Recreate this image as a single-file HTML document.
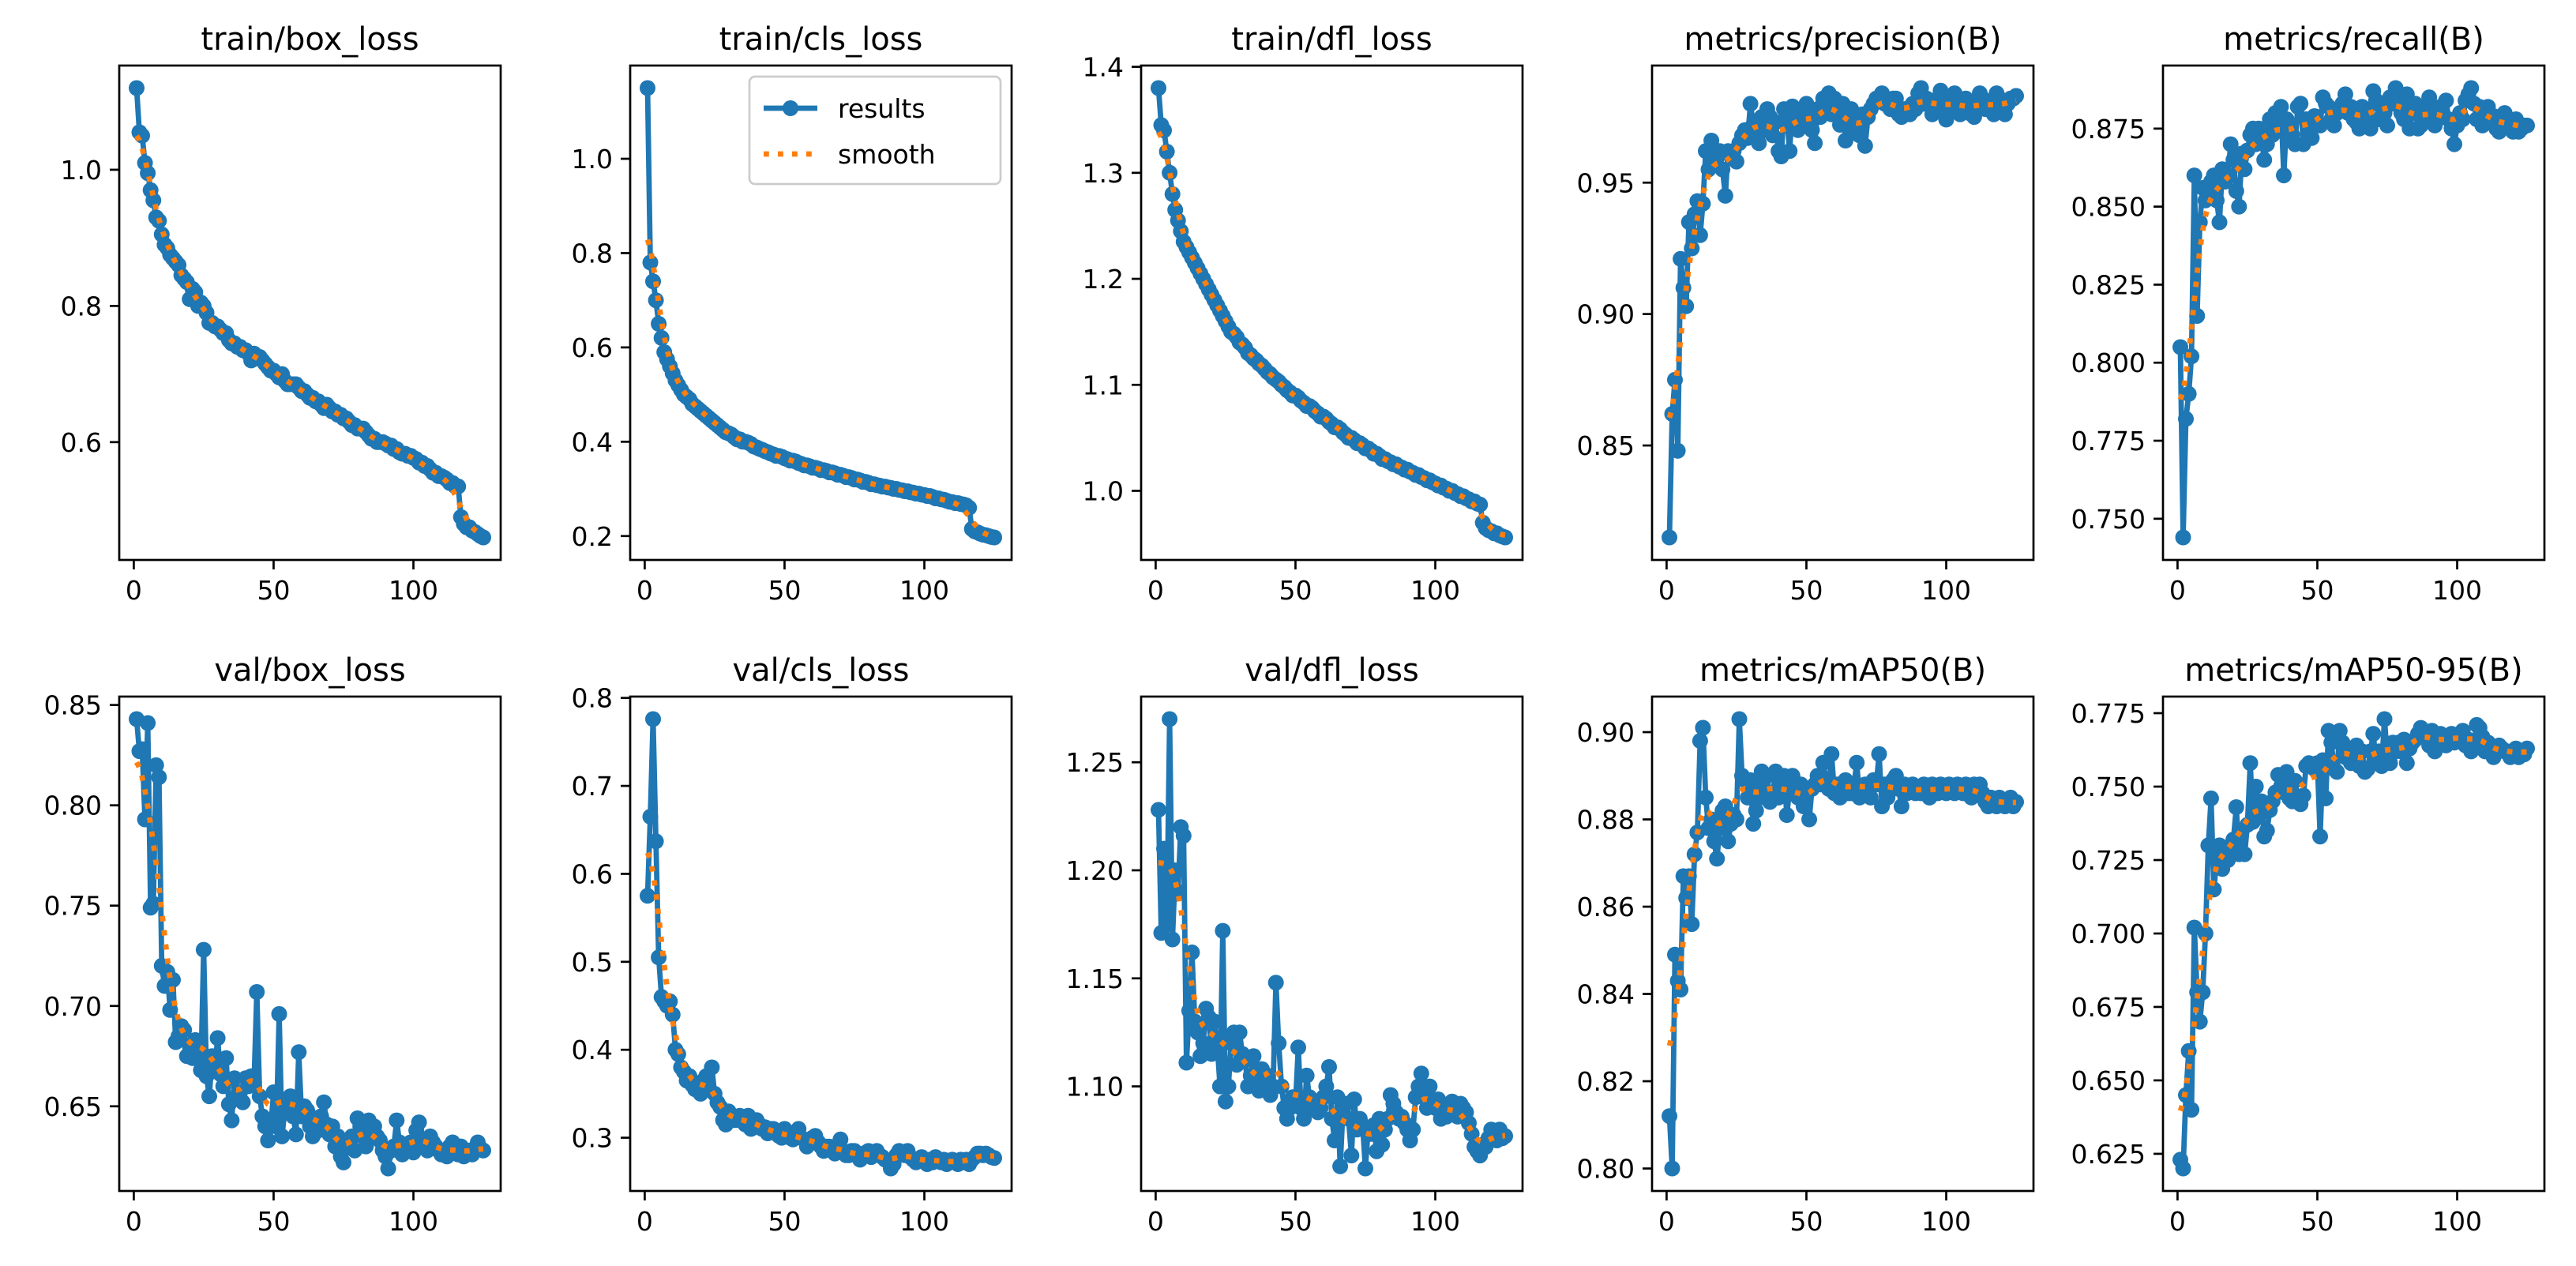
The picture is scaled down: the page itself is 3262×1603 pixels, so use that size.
<!DOCTYPE html>
<html><head><meta charset="utf-8"><title>results</title>
<style>
html,body{margin:0;padding:0;background:#fff;}
svg{display:block;}
text{font-family:"DejaVu Sans","Liberation Sans",sans-serif;fill:#000;}
</style></head>
<body>
<svg id="fig" width="3262" height="1603" viewBox="0 0 3262 1603" xmlns="http://www.w3.org/2000/svg">
<rect x="0" y="0" width="3262" height="1603" fill="#fff"/>
</svg>
<script>
const titles = ["train/box_loss","train/cls_loss","train/dfl_loss","metrics/precision(B)","metrics/recall(B)",
"val/box_loss","val/cls_loss","val/dfl_loss","metrics/mAP50(B)","metrics/mAP50-95(B)"];
const xTicks = [0,50,100];
const yTicks0 = [0.6,0.8,1.0];
const yTicks1 = [0.2,0.4,0.6,0.8,1.0];
const yTicks2 = [1.0,1.1,1.2,1.3,1.4];
const yTicks3 = [0.85,0.90,0.95];
const yTicks4 = [0.750,0.775,0.800,0.825,0.850,0.875];
const yTicks5 = [0.65,0.70,0.75,0.80,0.85];
const yTicks6 = [0.3,0.4,0.5,0.6,0.7,0.8];
const yTicks7 = [1.10,1.15,1.20,1.25];
const yTicks8 = [0.80,0.82,0.84,0.86,0.88,0.90];
const yTicks9 = [0.625,0.650,0.675,0.700,0.725,0.750,0.775];
const yDecimals = [1,1,1,2,3,2,1,2,2,3];

const trainBox = [1.12,1.055,1.05,1.01,0.995,0.97,0.955,0.93,0.925,0.905,
0.89,0.885,0.875,0.87,0.865,0.86,0.845,0.84,0.835,0.81,
0.825,0.82,0.80,0.805,0.80,0.79,0.775,0.775,0.77,0.77,
0.765,0.76,0.76,0.75,0.745,0.745,0.74,0.74,0.735,0.735,
0.73,0.72,0.73,0.725,0.725,0.72,0.715,0.71,0.705,0.705,
0.70,0.695,0.70,0.69,0.685,0.685,0.685,0.685,0.68,0.675,
0.675,0.67,0.665,0.665,0.66,0.66,0.655,0.65,0.655,0.65,
0.645,0.645,0.64,0.64,0.635,0.635,0.63,0.625,0.625,0.62,
0.62,0.62,0.615,0.61,0.605,0.605,0.60,0.60,0.60,0.598,
0.595,0.595,0.59,0.59,0.585,0.583,0.583,0.58,0.58,0.577,
0.575,0.57,0.57,0.565,0.565,0.56,0.555,0.555,0.55,0.55,
0.548,0.545,0.54,0.54,0.535,0.535,0.49,0.48,0.475,0.475,
0.47,0.468,0.465,0.462,0.46];
const trainCls = [1.15,0.78,0.74,0.70,0.65,0.62,0.59,0.575,0.56,0.545,
0.53,0.52,0.51,0.50,0.495,0.49,0.48,0.475,0.47,0.465,
0.46,0.455,0.45,0.445,0.44,0.435,0.43,0.425,0.42,0.418,
0.415,0.41,0.405,0.405,0.40,0.40,0.398,0.395,0.39,0.388,
0.385,0.383,0.38,0.378,0.375,0.373,0.37,0.37,0.368,0.365,
0.363,0.36,0.36,0.358,0.355,0.353,0.35,0.35,0.348,0.345,
0.345,0.343,0.34,0.34,0.338,0.335,0.335,0.333,0.33,0.33,
0.328,0.325,0.325,0.323,0.32,0.32,0.318,0.315,0.315,0.313,
0.31,0.31,0.308,0.307,0.305,0.305,0.303,0.302,0.30,0.30,
0.298,0.297,0.295,0.295,0.293,0.292,0.29,0.29,0.288,0.287,
0.285,0.285,0.283,0.28,0.28,0.278,0.277,0.275,0.273,0.272,
0.27,0.27,0.268,0.267,0.265,0.26,0.215,0.21,0.208,0.205,
0.203,0.202,0.20,0.198,0.197];
const trainDfl = [1.38,1.345,1.34,1.32,1.30,1.28,1.265,1.255,1.245,1.235,
1.23,1.225,1.22,1.215,1.21,1.205,1.20,1.195,1.19,1.185,
1.18,1.175,1.17,1.165,1.16,1.155,1.15,1.148,1.145,1.14,
1.138,1.135,1.13,1.128,1.125,1.123,1.12,1.118,1.115,1.112,
1.11,1.107,1.105,1.103,1.10,1.098,1.095,1.093,1.09,1.09,
1.088,1.085,1.083,1.08,1.08,1.078,1.075,1.073,1.07,1.07,
1.068,1.065,1.063,1.06,1.06,1.058,1.055,1.053,1.05,1.05,
1.048,1.045,1.045,1.043,1.04,1.04,1.038,1.035,1.035,1.033,
1.03,1.03,1.028,1.027,1.025,1.025,1.023,1.022,1.02,1.02,
1.018,1.017,1.015,1.015,1.013,1.012,1.01,1.01,1.008,1.007,
1.005,1.005,1.003,1.002,1.00,1.00,0.998,0.997,0.995,0.995,
0.993,0.992,0.99,0.99,0.988,0.987,0.97,0.965,0.963,0.962,
0.96,0.96,0.958,0.957,0.956];
const precision = [0.815,0.862,0.875,0.848,0.921,0.91,0.903,0.935,0.925,0.938,
0.943,0.930,0.942,0.962,0.955,0.966,0.958,0.96,0.962,0.955,
0.945,0.962,0.96,0.962,0.958,0.965,0.968,0.97,0.967,0.98,
0.972,0.97,0.965,0.975,0.97,0.978,0.975,0.968,0.973,0.962,
0.96,0.978,0.975,0.962,0.979,0.975,0.97,0.972,0.978,0.98,
0.975,0.97,0.965,0.978,0.975,0.982,0.978,0.984,0.976,0.982,
0.978,0.972,0.98,0.966,0.975,0.978,0.97,0.972,0.968,0.976,
0.964,0.975,0.978,0.98,0.982,0.982,0.984,0.98,0.98,0.978,
0.982,0.982,0.976,0.975,0.978,0.978,0.976,0.98,0.978,0.984,
0.986,0.98,0.982,0.98,0.976,0.978,0.982,0.985,0.98,0.974,
0.978,0.982,0.984,0.98,0.976,0.978,0.982,0.98,0.976,0.975,
0.98,0.984,0.982,0.978,0.98,0.978,0.976,0.984,0.982,0.978,
0.976,0.98,0.982,0.982,0.983];
const recall = [0.805,0.744,0.782,0.79,0.802,0.86,0.815,0.845,0.856,0.852,
0.855,0.858,0.86,0.852,0.845,0.862,0.858,0.86,0.87,0.865,
0.855,0.85,0.867,0.862,0.868,0.873,0.875,0.87,0.875,0.872,
0.865,0.87,0.878,0.873,0.88,0.876,0.882,0.86,0.878,0.876,
0.873,0.87,0.882,0.883,0.87,0.878,0.875,0.872,0.879,0.877,
0.876,0.885,0.883,0.882,0.878,0.876,0.88,0.881,0.883,0.886,
0.88,0.882,0.878,0.877,0.875,0.882,0.88,0.878,0.875,0.887,
0.884,0.878,0.882,0.88,0.876,0.885,0.883,0.888,0.884,0.88,
0.878,0.886,0.875,0.88,0.883,0.875,0.876,0.882,0.878,0.885,
0.88,0.876,0.878,0.882,0.879,0.884,0.878,0.875,0.87,0.876,
0.88,0.878,0.884,0.886,0.888,0.883,0.878,0.882,0.876,0.88,
0.882,0.878,0.879,0.875,0.874,0.876,0.88,0.878,0.877,0.874,
0.878,0.874,0.875,0.876,0.876];
const valBox = [0.843,0.827,0.828,0.793,0.841,0.749,0.751,0.82,0.814,0.72,
0.71,0.717,0.698,0.713,0.682,0.685,0.69,0.688,0.675,0.68,
0.674,0.683,0.674,0.668,0.728,0.665,0.655,0.675,0.669,0.684,
0.666,0.66,0.674,0.651,0.643,0.664,0.655,0.657,0.652,0.664,
0.66,0.665,0.662,0.707,0.655,0.645,0.64,0.633,0.64,0.657,
0.64,0.696,0.635,0.648,0.652,0.655,0.645,0.636,0.677,0.645,
0.65,0.648,0.64,0.635,0.644,0.638,0.645,0.652,0.641,0.636,
0.64,0.63,0.635,0.625,0.622,0.63,0.632,0.635,0.628,0.644,
0.64,0.635,0.63,0.643,0.638,0.64,0.635,0.633,0.628,0.625,
0.619,0.628,0.63,0.643,0.632,0.626,0.628,0.63,0.632,0.627,
0.638,0.642,0.633,0.63,0.628,0.635,0.632,0.63,0.628,0.626,
0.628,0.625,0.63,0.632,0.628,0.626,0.63,0.625,0.627,0.628,
0.626,0.628,0.632,0.629,0.628];
const valCls = [0.575,0.665,0.776,0.637,0.505,0.46,0.455,0.45,0.455,0.44,
0.40,0.395,0.38,0.375,0.365,0.37,0.36,0.355,0.36,0.35,
0.365,0.37,0.355,0.38,0.35,0.34,0.335,0.32,0.315,0.33,
0.325,0.32,0.32,0.325,0.32,0.315,0.325,0.31,0.318,0.32,
0.315,0.31,0.312,0.305,0.31,0.31,0.305,0.302,0.30,0.31,
0.305,0.30,0.298,0.30,0.31,0.30,0.298,0.29,0.295,0.30,
0.302,0.295,0.29,0.285,0.29,0.29,0.285,0.282,0.29,0.298,
0.285,0.28,0.28,0.285,0.285,0.28,0.275,0.28,0.283,0.285,
0.278,0.28,0.285,0.28,0.278,0.275,0.273,0.265,0.27,0.28,
0.285,0.282,0.28,0.285,0.278,0.275,0.272,0.275,0.278,0.275,
0.27,0.275,0.272,0.278,0.275,0.272,0.275,0.27,0.272,0.275,
0.272,0.27,0.275,0.272,0.275,0.27,0.275,0.278,0.282,0.282,
0.28,0.282,0.28,0.278,0.277];
const valDfl = [1.228,1.171,1.21,1.175,1.27,1.168,1.20,1.19,1.22,1.216,
1.111,1.135,1.162,1.13,1.125,1.114,1.12,1.136,1.132,1.115,
1.13,1.12,1.10,1.172,1.093,1.10,1.12,1.125,1.11,1.125,
1.115,1.112,1.10,1.105,1.114,1.10,1.098,1.108,1.10,1.105,
1.096,1.10,1.148,1.12,1.10,1.09,1.085,1.09,1.095,1.092,
1.118,1.09,1.085,1.105,1.095,1.09,1.092,1.088,1.09,1.095,
1.10,1.109,1.085,1.075,1.095,1.063,1.09,1.092,1.085,1.068,
1.094,1.08,1.085,1.082,1.062,1.08,1.078,1.082,1.07,1.085,
1.073,1.08,1.085,1.096,1.092,1.088,1.085,1.086,1.083,1.08,
1.075,1.08,1.095,1.10,1.106,1.095,1.09,1.10,1.092,1.09,
1.094,1.085,1.09,1.086,1.088,1.093,1.09,1.086,1.092,1.09,
1.088,1.083,1.078,1.072,1.07,1.068,1.073,1.072,1.076,1.08,
1.078,1.075,1.08,1.076,1.077];
const map50 = [0.812,0.80,0.849,0.843,0.841,0.867,0.862,0.867,0.856,0.872,
0.877,0.898,0.901,0.885,0.878,0.88,0.875,0.871,0.878,0.882,
0.883,0.875,0.879,0.881,0.88,0.903,0.89,0.889,0.885,0.889,
0.879,0.882,0.888,0.891,0.885,0.89,0.884,0.886,0.891,0.885,
0.888,0.89,0.881,0.887,0.89,0.886,0.885,0.888,0.883,0.886,
0.88,0.887,0.888,0.89,0.888,0.893,0.889,0.887,0.895,0.886,
0.888,0.885,0.887,0.889,0.886,0.886,0.888,0.893,0.885,0.887,
0.888,0.886,0.885,0.889,0.888,0.895,0.883,0.888,0.885,0.887,
0.889,0.89,0.887,0.883,0.888,0.886,0.887,0.888,0.886,0.887,
0.886,0.888,0.887,0.885,0.888,0.887,0.886,0.888,0.887,0.886,
0.888,0.887,0.886,0.888,0.887,0.886,0.888,0.887,0.885,0.888,
0.887,0.888,0.886,0.884,0.883,0.885,0.884,0.883,0.885,0.884,
0.883,0.884,0.885,0.883,0.884];
const map5095 = [0.623,0.62,0.645,0.66,0.64,0.702,0.68,0.67,0.68,0.70,
0.73,0.746,0.715,0.725,0.73,0.722,0.728,0.725,0.73,0.732,
0.743,0.727,0.735,0.727,0.737,0.758,0.738,0.75,0.74,0.745,
0.733,0.735,0.742,0.745,0.748,0.754,0.75,0.748,0.755,0.746,
0.745,0.752,0.746,0.744,0.747,0.757,0.758,0.757,0.756,0.758,
0.733,0.759,0.746,0.769,0.765,0.756,0.755,0.769,0.765,0.76,
0.762,0.758,0.76,0.764,0.757,0.762,0.755,0.756,0.762,0.768,
0.758,0.762,0.757,0.773,0.76,0.758,0.765,0.762,0.765,0.762,
0.766,0.758,0.763,0.765,0.766,0.768,0.77,0.769,0.768,0.764,
0.769,0.762,0.765,0.768,0.767,0.764,0.766,0.768,0.765,0.767,
0.768,0.769,0.764,0.766,0.762,0.765,0.771,0.77,0.767,0.762,
0.765,0.762,0.76,0.763,0.764,0.763,0.762,0.762,0.76,0.762,
0.763,0.76,0.762,0.761,0.763];

const seriesList = [trainBox,trainCls,trainDfl,precision,recall,valBox,valCls,valDfl,map50,map5095];
const yTickList = [yTicks0,yTicks1,yTicks2,yTicks3,yTicks4,yTicks5,yTicks6,yTicks7,yTicks8,yTicks9];

const NS = "http://www.w3.org/2000/svg";
const fig = document.getElementById('fig');
const BLUE = "#1f77b4", ORANGE = "#ff7f0e";
const colLeft = [151,798,1445,2092,2739], rowTop = [83,882];
const AW = 483, AH = 626;

function el(tag, attrs, parent){
  const e = document.createElementNS(NS, tag);
  for (const k in attrs) e.setAttribute(k, attrs[k]);
  (parent||fig).appendChild(e);
  return e;
}
function gaussSmooth(y, sigma){
  const r = Math.round(4*sigma), w = [];
  let s = 0;
  for (let i=-r;i<=r;i++){ const v=Math.exp(-0.5*i*i/(sigma*sigma)); w.push(v); s+=v; }
  const n = y.length, out = [];
  const refl = i => { while(i<0||i>=n){ if(i<0) i=-i-1; if(i>=n) i=2*n-i-1; } return i; };
  for (let i=0;i<n;i++){ let a=0; for(let k=-r;k<=r;k++) a+=w[k+r]*y[refl(i+k)]; out.push(a/s); }
  return out;
}

seriesList.forEach((ys, idx) => {
  const L = colLeft[idx%5], T = rowTop[Math.floor(idx/5)];
  const xs = ys.map((_,i)=>i+1);
  const xmin = 1, xmax = xs.length;
  const xm = (xmax-xmin)*0.05;
  const x0 = xmin-xm, x1 = xmax+xm;
  const ymin = Math.min(...ys), ymax = Math.max(...ys);
  const ym = (ymax-ymin)*0.05;
  const y0 = ymin-ym, y1 = ymax+ym;
  const sx = v => L + (v-x0)/(x1-x0)*AW;
  const sy = v => T + AH - (v-y0)/(y1-y0)*AH;

  const g = el('g', {});
  
  

  const clipId = 'clip'+idx;
  const cp = el('clipPath', {id:clipId}, g);
  el('rect', {x:L, y:T, width:AW, height:AH}, cp);

  // series
  const pts = xs.map((x,i)=>sx(x).toFixed(1)+','+sy(ys[i]).toFixed(1)).join(' ');
  const line = el('polyline', {points:pts, fill:'none', stroke:BLUE, 'stroke-width':6.8, 'stroke-linejoin':'round', 'stroke-linecap':'round', 'clip-path':'url(#'+clipId+')'}, g);
  
  
  xs.forEach((x,i)=>{
    const c = el('circle', {cx:sx(x).toFixed(1), cy:sy(ys[i]).toFixed(1), r:10, fill:BLUE, 'clip-path':'url(#'+clipId+')'}, g);
    
    
  });
  const sm = gaussSmooth(ys, 3);
  const spts = xs.map((x,i)=>sx(x).toFixed(1)+','+sy(sm[i]).toFixed(1)).join(' ');
  const sl = el('polyline', {points:spts, fill:'none', stroke:ORANGE, 'stroke-width':6.8, 'stroke-dasharray':'6.8 11.2', 'clip-path':'url(#'+clipId+')'}, g);
  
  

  // frame
  const fr = el('rect', {x:L, y:T, width:AW, height:AH, fill:'none', stroke:'#000', 'stroke-width':2.7}, g);
  
  

  // x ticks
  xTicks.forEach(t=>{
    const x = sx(t);
    el('line', {x1:x, y1:T+AH, x2:x, y2:T+AH+12, stroke:'#000', 'stroke-width':2.7}, g);
    const tx = el('text', {x:x, y:T+AH+50, 'font-size':33, 'text-anchor':'middle'}, g);
    tx.textContent = String(t);
    
    
  });
  // y ticks
  yTickList[idx].forEach(t=>{
    const y = sy(t);
    el('line', {x1:L-12, y1:y, x2:L, y2:y, stroke:'#000', 'stroke-width':2.7}, g);
    const ty = el('text', {x:L-22, y:y+12, 'font-size':33, 'text-anchor':'end'}, g);
    ty.textContent = t.toFixed(yDecimals[idx]);
    
    
  });
  // title
  const tt = el('text', {x:L+AW/2, y:T-20, 'font-size':40, 'text-anchor':'middle'}, g);
  tt.textContent = titles[idx];
  
  

  if (idx === 1){
    const lg = el('g', {}, g);
    
    
    const bx = L+AW-14-318, by = T+14, bw = 318, bh = 136;
    el('rect', {x:bx, y:by, width:bw, height:bh, rx:7, fill:'#fff', 'fill-opacity':0.8, stroke:'#cccccc', 'stroke-width':2.7}, lg);
    const e1 = el('g', {}, lg);
    
    
    el('line', {x1:bx+18, y1:by+40, x2:bx+86, y2:by+40, stroke:BLUE, 'stroke-width':6.8}, e1);
    el('circle', {cx:bx+52, cy:by+40, r:10, fill:BLUE}, e1);
    const t1 = el('text', {x:bx+112, y:by+52, 'font-size':33}, e1);
    t1.textContent = 'results';
    const e2 = el('g', {}, lg);
    
    
    el('line', {x1:bx+18, y1:by+98, x2:bx+86, y2:by+98, stroke:ORANGE, 'stroke-width':6.8, 'stroke-dasharray':'6.8 11.2'}, e2);
    const t2 = el('text', {x:bx+112, y:by+110, 'font-size':33}, e2);
    t2.textContent = 'smooth';
  }
});
</script>
</body></html>
